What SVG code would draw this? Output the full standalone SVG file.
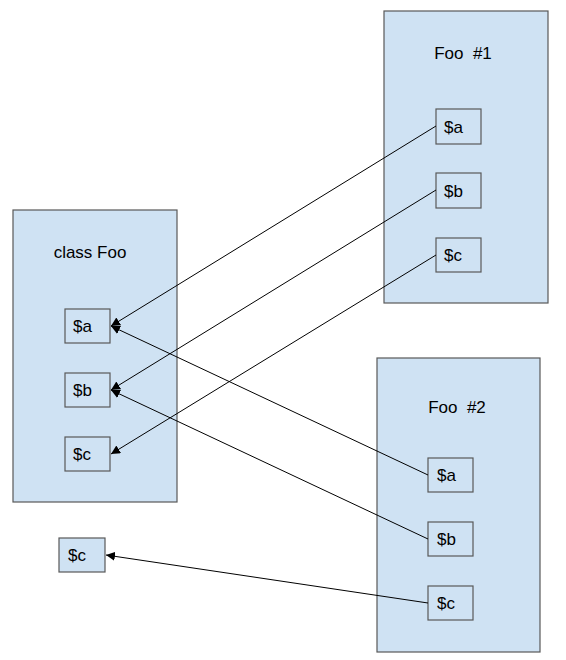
<svg xmlns="http://www.w3.org/2000/svg" width="566" height="660" viewBox="0 0 566 660">
<style>
.box{fill:#cfe2f3;stroke:#595959;stroke-width:1.2}
.t{font-family:"Liberation Sans",Arial,sans-serif;font-size:17px;fill:#000}
.c{stroke:#000;stroke-width:1;fill:none;marker-end:url(#ah)}
</style>
<defs>
<marker id="ah" viewBox="0 0 10 10" refX="10" refY="5" markerWidth="9" markerHeight="9" markerUnits="userSpaceOnUse" orient="auto">
<path d="M0,0 L10,5 L0,10 z" fill="#000"/>
</marker>
</defs>
<rect width="566" height="660" fill="#fff"/>
<g id="classFoo">
<rect class="box" x="13" y="210" width="164" height="292"/>
<text class="t" x="90" y="258" text-anchor="middle">class Foo</text>
</g>
<g id="classFoo_a"><rect class="box" x="65" y="309" width="45" height="34"/><text class="t" x="73" y="332">$a</text></g>
<g id="classFoo_b"><rect class="box" x="65" y="373" width="45" height="34"/><text class="t" x="73" y="396">$b</text></g>
<g id="classFoo_c"><rect class="box" x="65" y="437" width="45" height="34"/><text class="t" x="73" y="460">$c</text></g>
<g id="foo1">
<rect class="box" x="384" y="11" width="164" height="292"/>
<text class="t" x="463" y="59" text-anchor="middle" xml:space="preserve">Foo  #1</text>
</g>
<g id="foo1_a"><rect class="box" x="436" y="109" width="45" height="35"/><text class="t" x="444" y="133">$a</text></g>
<g id="foo1_b"><rect class="box" x="436" y="173" width="45" height="35"/><text class="t" x="444" y="197">$b</text></g>
<g id="foo1_c"><rect class="box" x="436" y="238" width="45" height="34"/><text class="t" x="444" y="261">$c</text></g>
<g id="foo2">
<rect class="box" x="377" y="358" width="163" height="294"/>
<text class="t" x="457" y="413" text-anchor="middle" xml:space="preserve">Foo  #2</text>
</g>
<g id="foo2_a"><rect class="box" x="428" y="458" width="45" height="34"/><text class="t" x="437" y="481">$a</text></g>
<g id="foo2_b"><rect class="box" x="428" y="522" width="45" height="34"/><text class="t" x="437" y="545">$b</text></g>
<g id="foo2_c"><rect class="box" x="428" y="586" width="45" height="34"/><text class="t" x="437" y="609">$c</text></g>
<g id="lone_c"><rect class="box" x="59" y="538" width="46" height="34"/><text class="t" x="68" y="561">$c</text></g>
<g id="connectors">
<line class="c" x1="436" y1="126" x2="111" y2="326"/>
<line class="c" x1="436" y1="190" x2="111" y2="390"/>
<line class="c" x1="436" y1="255" x2="111" y2="454"/>
<line class="c" x1="428" y1="475" x2="111" y2="326"/>
<line class="c" x1="428" y1="539" x2="111" y2="390"/>
<line class="c" x1="428" y1="603" x2="106" y2="555"/>
</g>
</svg>
